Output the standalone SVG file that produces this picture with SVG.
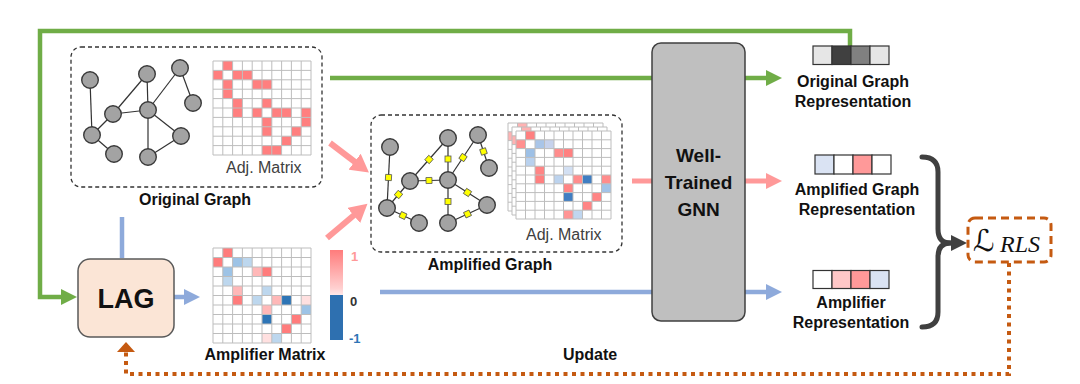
<svg xmlns="http://www.w3.org/2000/svg" xmlns:xlink="http://www.w3.org/1999/xlink" width="1080" height="384" viewBox="0 0 1080 384">
<style>
.lbl{font-family:"Liberation Sans",Arial,sans-serif;font-weight:bold;fill:#111;}
.adj{font-family:"Liberation Sans",Arial,sans-serif;font-size:16px;fill:#404040;}
.dash{fill:none;stroke:#333;stroke-width:1.3;stroke-dasharray:4 3;}
.edge{stroke:#333;stroke-width:1.2;}
.nd{fill:#a3a3a3;stroke:#3a3a3a;stroke-width:1.4;}
.ys{fill:#ffff00;stroke:#555;stroke-width:0.8;}
.red{fill:#ff7f7f;}
.grid{fill:none;stroke:#bdbdbd;stroke-width:1;}
.vec{stroke:#333;stroke-width:1.2;}
.g{fill:none;stroke:#70ad47;stroke-width:4.5;}
.p{fill:none;stroke:#ff9999;stroke-width:5;}
.b{fill:none;stroke:#8eaadb;stroke-width:4.5;}
.o{fill:none;stroke:#c55a11;stroke-width:4;stroke-dasharray:4 4.5;}
</style>
<defs>
<path id="grid10" class="grid" vector-effect="non-scaling-stroke" d="M0 0H10M0 1H10M0 2H10M0 3H10M0 4H10M0 5H10M0 6H10M0 7H10M0 8H10M0 9H10M0 10H10M0 0V10M1 0V10M2 0V10M3 0V10M4 0V10M5 0V10M6 0V10M7 0V10M8 0V10M9 0V10M10 0V10"/>
<g id="origCells" class="red">
<rect x="1" y="0" width="1" height="1"/>
<rect x="0" y="1" width="1" height="1"/><rect x="2" y="1" width="1" height="1"/><rect x="3" y="1" width="1" height="1"/>
<rect x="1" y="2" width="1" height="1"/><rect x="4" y="2" width="1" height="1"/><rect x="5" y="2" width="1" height="1"/>
<rect x="1" y="3" width="1" height="1"/>
<rect x="2" y="4" width="1" height="1"/><rect x="5" y="4" width="1" height="1"/>
<rect x="2" y="5" width="1" height="1"/><rect x="4" y="5" width="1" height="1"/><rect x="6" y="5" width="1" height="1"/><rect x="7" y="5" width="1" height="1"/><rect x="9" y="5" width="1" height="1"/>
<rect x="5" y="6" width="1" height="1"/><rect x="9" y="6" width="1" height="1"/>
<rect x="5" y="7" width="1" height="1"/><rect x="8" y="7" width="1" height="1"/>
<rect x="7" y="8" width="1" height="1"/>
<rect x="5" y="9" width="1" height="1"/><rect x="6" y="9" width="1" height="1"/>
</g>
<filter id="soft" x="-10%" y="-10%" width="120%" height="120%"><feGaussianBlur stdDeviation="0.08"/></filter>
<linearGradient id="cbar" x1="0" y1="0" x2="0" y2="1"><stop offset="0" stop-color="#ff7c7c"/><stop offset="0.85" stop-color="#ffd0d0"/><stop offset="1" stop-color="#ffe8e8"/></linearGradient>
<marker id="mG" viewBox="0 0 16 16" refX="3" refY="8" markerWidth="16" markerHeight="16" markerUnits="userSpaceOnUse" orient="auto"><path d="M0,0 L16,8 L0,16 z" fill="#70ad47"/></marker>
<marker id="mP" viewBox="0 0 16 16" refX="3" refY="8" markerWidth="16" markerHeight="16" markerUnits="userSpaceOnUse" orient="auto"><path d="M0,0 L16,8 L0,16 z" fill="#ff9999"/></marker>
<marker id="mP2" viewBox="0 0 20 20" refX="3" refY="10" markerWidth="20" markerHeight="20" markerUnits="userSpaceOnUse" orient="auto"><path d="M0,0 L18,10 L0,20 z" fill="#ff9999"/></marker>
<marker id="mB" viewBox="0 0 16 16" refX="3" refY="8" markerWidth="16" markerHeight="16" markerUnits="userSpaceOnUse" orient="auto"><path d="M0,0 L16,8 L0,16 z" fill="#8eaadb"/></marker>
<marker id="mK" viewBox="0 0 16 16" refX="3" refY="8" markerWidth="16" markerHeight="16" markerUnits="userSpaceOnUse" orient="auto"><path d="M0,0 L16,8 L0,16 z" fill="#404040"/></marker>
<marker id="mO" viewBox="0 0 10 18" refX="0" refY="9" markerWidth="10" markerHeight="18" markerUnits="userSpaceOnUse" orient="auto"><path d="M0,0 L10,9 L0,18 z" fill="#c55a11"/></marker>
</defs>
<rect width="1080" height="384" fill="#ffffff"/>

<g id="connectors">
<path class="g" d="M850,46 V31 H40 V297 H64" marker-end="url(#mG)"/>
<path class="g" d="M330,78 H652"/>
<path class="g" d="M745,78 H769" marker-end="url(#mG)"/>
<path class="p" d="M632,181 H652"/>
<path class="p" d="M745,181 H769" marker-end="url(#mP)"/>
<path class="b" d="M380,292 H652"/>
<path class="b" d="M745,292 H769" marker-end="url(#mB)"/>
<path class="b" d="M122,217 V258"/>
<path class="b" d="M174,297 H187" marker-end="url(#mB)"/>
<path fill="none" stroke="#ff9999" stroke-width="6" d="M330,143 L357,163.5" marker-end="url(#mP2)"/>
<path fill="none" stroke="#ff9999" stroke-width="6" d="M327,238 L356,213.5" marker-end="url(#mP2)"/>
<path fill="none" stroke="#404040" stroke-width="5" stroke-linejoin="round" stroke-linecap="round" d="M922,157 Q938,157 938,172 L938,229 Q938,243 950,243 Q938,243 938,257 L938,312 Q938,327 922,327"/>
<path fill="none" stroke="#404040" stroke-width="5" d="M942,243 H954" marker-end="url(#mK)"/>
<path class="o" d="M1009,263 V374 H126 V352" marker-end="url(#mO)"/>
</g>

<g id="original-graph">
<rect class="dash" x="71" y="47" width="251" height="140" rx="10"/>
<g>
<line class="edge" x1="90" y1="80" x2="92" y2="135"/>
<line class="edge" x1="92" y1="135" x2="113" y2="114"/>
<line class="edge" x1="92" y1="135" x2="114" y2="154"/>
<line class="edge" x1="113" y1="114" x2="148" y2="110"/>
<line class="edge" x1="113" y1="114" x2="147" y2="74"/>
<line class="edge" x1="147" y1="74" x2="148" y2="110"/>
<line class="edge" x1="148" y1="110" x2="180" y2="68"/>
<line class="edge" x1="180" y1="68" x2="193" y2="103"/>
<line class="edge" x1="148" y1="110" x2="181" y2="136"/>
<line class="edge" x1="148" y1="110" x2="148" y2="157"/>
<line class="edge" x1="148" y1="157" x2="181" y2="136"/>
<circle class="nd" cx="90" cy="80" r="8.3"/>
<circle class="nd" cx="147" cy="74" r="8.3"/>
<circle class="nd" cx="180" cy="68" r="8.3"/>
<circle class="nd" cx="193" cy="103" r="8.3"/>
<circle class="nd" cx="113" cy="114" r="8.3"/>
<circle class="nd" cx="148" cy="110" r="8.3"/>
<circle class="nd" cx="92" cy="135" r="8.3"/>
<circle class="nd" cx="114" cy="154" r="8.3"/>
<circle class="nd" cx="181" cy="136" r="8.3"/>
<circle class="nd" cx="148" cy="157" r="8.3"/>
</g>
<g transform="translate(213,61) scale(9.8,9.4)">
<rect x="0" y="0" width="10" height="10" fill="#fff"/>
<use href="#origCells" xlink:href="#origCells"/>
<use href="#grid10" xlink:href="#grid10"/>
</g>
<text class="adj" x="226" y="173">Adj. Matrix</text>
<text class="lbl" x="195" y="205" font-size="16" text-anchor="middle">Original Graph</text>
</g>

<g id="amplified-graph">
<rect class="dash" x="371" y="115" width="251" height="137" rx="10"/>
<g>
<line class="edge" x1="390" y1="147" x2="387" y2="208"/>
<line class="edge" x1="387" y1="208" x2="410" y2="181"/>
<line class="edge" x1="387" y1="208" x2="419" y2="223"/>
<line class="edge" x1="410" y1="181" x2="448" y2="180"/>
<line class="edge" x1="410" y1="181" x2="448" y2="138"/>
<line class="edge" x1="448" y1="138" x2="448" y2="180"/>
<line class="edge" x1="448" y1="180" x2="478" y2="135"/>
<line class="edge" x1="478" y1="135" x2="489" y2="168"/>
<line class="edge" x1="448" y1="180" x2="487" y2="205"/>
<line class="edge" x1="448" y1="180" x2="448" y2="223"/>
<line class="edge" x1="448" y1="223" x2="487" y2="205"/>
<rect class="ys" x="-3" y="-3" width="6" height="6" transform="translate(388.5,177.5) rotate(92.8)"/>
<rect class="ys" x="-3" y="-3" width="6" height="6" transform="translate(398.5,194.5) rotate(-49.6)"/>
<rect class="ys" x="-3" y="-3" width="6" height="6" transform="translate(403,215.5) rotate(25.1)"/>
<rect class="ys" x="-3" y="-3" width="6" height="6" transform="translate(429,180.5) rotate(-1.5)"/>
<rect class="ys" x="-3" y="-3" width="6" height="6" transform="translate(429,159.5) rotate(-48.5)"/>
<rect class="ys" x="-3" y="-3" width="6" height="6" transform="translate(448,159) rotate(90)"/>
<rect class="ys" x="-3" y="-3" width="6" height="6" transform="translate(463,157.5) rotate(-56.3)"/>
<rect class="ys" x="-3" y="-3" width="6" height="6" transform="translate(483.5,151.5) rotate(71.6)"/>
<rect class="ys" x="-3" y="-3" width="6" height="6" transform="translate(467.5,192.5) rotate(32.7)"/>
<rect class="ys" x="-3" y="-3" width="6" height="6" transform="translate(448,201.5) rotate(90)"/>
<rect class="ys" x="-3" y="-3" width="6" height="6" transform="translate(467.5,214) rotate(-24.8)"/>
<circle class="nd" cx="390" cy="147" r="8.3"/>
<circle class="nd" cx="448" cy="138" r="8.3"/>
<circle class="nd" cx="478" cy="135" r="8.3"/>
<circle class="nd" cx="489" cy="168" r="8.3"/>
<circle class="nd" cx="410" cy="181" r="8.3"/>
<circle class="nd" cx="448" cy="180" r="8.3"/>
<circle class="nd" cx="387" cy="208" r="8.3"/>
<circle class="nd" cx="419" cy="223" r="8.3"/>
<circle class="nd" cx="487" cy="205" r="8.3"/>
<circle class="nd" cx="448" cy="223" r="8.3"/>
</g>
<g transform="translate(508,123) scale(9.5,8.8)">
<rect x="0" y="0" width="10" height="10" fill="#fff"/>
<use href="#origCells" xlink:href="#origCells" opacity="0.6" filter="url(#soft)"/>
<use href="#grid10" xlink:href="#grid10"/>
</g>
<g transform="translate(512,127) scale(9.5,8.8)">
<rect x="0" y="0" width="10" height="10" fill="#fff"/>
<use href="#origCells" xlink:href="#origCells" opacity="0.6" filter="url(#soft)"/>
<use href="#grid10" xlink:href="#grid10"/>
</g>
<g transform="translate(516,131) scale(9.5,8.8)">
<rect x="0" y="0" width="10" height="10" fill="#fff"/>
<g filter="url(#soft)">
<rect x="1" y="0" width="1" height="1" fill="#ff8080"/>
<rect x="0" y="1" width="1" height="1" fill="#ff9090"/><rect x="2" y="1" width="1" height="1" fill="#a9c5e8"/><rect x="3" y="1" width="1" height="1" fill="#c6d2ec"/>
<rect x="1" y="2" width="1" height="1" fill="#9dc0e6"/><rect x="4" y="2" width="1" height="1" fill="#ff8c8c"/><rect x="5" y="2" width="1" height="1" fill="#ff8080"/>
<rect x="1" y="3" width="1" height="1" fill="#b9d1ee"/>
<rect x="2" y="4" width="1" height="1" fill="#ff8585"/><rect x="5" y="4" width="1" height="1" fill="#d3e0f3"/>
<rect x="2" y="5" width="1" height="1" fill="#ff8080"/><rect x="4" y="5" width="1" height="1" fill="#bcd3ee"/><rect x="6" y="5" width="1" height="1" fill="#ff8c8c"/><rect x="7" y="5" width="1" height="1" fill="#3f7ec2"/><rect x="9" y="5" width="1" height="1" fill="#ff8c8c"/>
<rect x="5" y="6" width="1" height="1" fill="#ff8585"/><rect x="9" y="6" width="1" height="1" fill="#a2c3e8"/>
<rect x="5" y="7" width="1" height="1" fill="#3f7ec2"/><rect x="8" y="7" width="1" height="1" fill="#ff8585"/>
<rect x="7" y="8" width="1" height="1" fill="#ff8585"/>
<rect x="5" y="9" width="1" height="1" fill="#ff9494"/><rect x="6" y="9" width="1" height="1" fill="#c0d6ef"/>
</g>
<use href="#grid10" xlink:href="#grid10"/>
</g>
<text class="adj" x="526" y="240">Adj. Matrix</text>
<text class="lbl" x="490" y="270" font-size="16" text-anchor="middle">Amplified Graph</text>
</g>

<g id="lag">
<rect x="78" y="259" width="96" height="78" rx="12" fill="#fbe5d6" stroke="#595959" stroke-width="1.5"/>
<text class="lbl" x="126" y="308" font-size="27" text-anchor="middle">LAG</text>
</g>

<g id="amplifier-matrix">
<g transform="translate(213,248) scale(9.8,9.5)">
<rect x="0" y="0" width="10" height="10" fill="#fff"/>
<rect x="1" y="0" width="1" height="1" fill="#ff7c7c"/>
<rect x="0" y="1" width="1" height="1" fill="#ff7c7c"/><rect x="2" y="1" width="1" height="1" fill="#9dc3e6"/><rect x="3" y="1" width="1" height="1" fill="#bdd7ee"/>
<rect x="1" y="2" width="1" height="1" fill="#9dc3e6"/><rect x="4" y="2" width="1" height="1" fill="#ffb8b8"/><rect x="5" y="2" width="1" height="1" fill="#ff7c7c"/>
<rect x="1" y="3" width="1" height="1" fill="#bdd7ee"/>
<rect x="2" y="4" width="1" height="1" fill="#ffb8b8"/><rect x="5" y="4" width="1" height="1" fill="#bdd7ee"/>
<rect x="2" y="5" width="1" height="1" fill="#ff7c7c"/><rect x="4" y="5" width="1" height="1" fill="#bdd7ee"/><rect x="6" y="5" width="1" height="1" fill="#ffb8b8"/><rect x="7" y="5" width="1" height="1" fill="#2e75b6"/><rect x="9" y="5" width="1" height="1" fill="#ffe0e0"/>
<rect x="5" y="6" width="1" height="1" fill="#ffb8b8"/><rect x="9" y="6" width="1" height="1" fill="#9dc3e6"/>
<rect x="5" y="7" width="1" height="1" fill="#2e75b6"/><rect x="8" y="7" width="1" height="1" fill="#ff7c7c"/>
<rect x="7" y="8" width="1" height="1" fill="#ff7c7c"/>
<rect x="5" y="9" width="1" height="1" fill="#ffe0e0"/><rect x="6" y="9" width="1" height="1" fill="#bdd7ee"/>
<use href="#grid10" xlink:href="#grid10"/>
</g>
<text class="lbl" x="265" y="360" font-size="16" text-anchor="middle">Amplifier Matrix</text>
</g>

<g id="colorbar">
<rect x="330" y="250" width="13" height="45" fill="url(#cbar)"/>
<rect x="330" y="295" width="13" height="45" fill="#2e70b0"/>
<text class="lbl" x="351" y="261" font-size="13" style="fill:#ff9999">1</text>
<text class="lbl" x="350" y="306" font-size="13" style="fill:#333">0</text>
<text class="lbl" x="349" y="343" font-size="13" style="fill:#2e75b6">-1</text>
</g>

<g id="gnn">
<rect x="652" y="43" width="93" height="278" rx="9" fill="#bfbfbf" stroke="#404040" stroke-width="1.5"/>
<text class="lbl" x="698.5" y="162" font-size="19" text-anchor="middle">Well-</text>
<text class="lbl" x="698.5" y="189" font-size="19" text-anchor="middle">Trained</text>
<text class="lbl" x="698.5" y="216" font-size="19" text-anchor="middle">GNN</text>
</g>

<g id="original-representation">
<rect class="vec" x="813" y="46" width="19" height="18.5" fill="#e6e6e6"/>
<rect class="vec" x="832" y="46" width="19" height="18.5" fill="#404040"/>
<rect class="vec" x="851" y="46" width="19" height="18.5" fill="#808080"/>
<rect class="vec" x="870" y="46" width="19" height="18.5" fill="#e6e6e6"/>
<text class="lbl" x="853" y="87" font-size="16" text-anchor="middle">Original Graph</text>
<text class="lbl" x="853" y="107" font-size="16" text-anchor="middle">Representation</text>
</g>

<g id="amplified-representation">
<rect class="vec" x="815" y="155" width="19" height="19" fill="#dae3f3"/>
<rect class="vec" x="834" y="155" width="19" height="19" fill="#ffffff"/>
<rect class="vec" x="853" y="155" width="19" height="19" fill="#ff9999"/>
<rect class="vec" x="872" y="155" width="19" height="19" fill="#ffffff"/>
<text class="lbl" x="857" y="195" font-size="16" text-anchor="middle">Amplified Graph</text>
<text class="lbl" x="857" y="215" font-size="16" text-anchor="middle">Representation</text>
</g>

<g id="amplifier-representation">
<rect class="vec" x="813" y="270.5" width="19" height="18" fill="#ffffff"/>
<rect class="vec" x="832" y="270.5" width="19" height="18" fill="#ffc7c7"/>
<rect class="vec" x="851" y="270.5" width="19" height="18" fill="#ff9999"/>
<rect class="vec" x="870" y="270.5" width="19" height="18" fill="#dae3f3"/>
<text class="lbl" x="851" y="308" font-size="16" text-anchor="middle">Amplifier</text>
<text class="lbl" x="851" y="328" font-size="16" text-anchor="middle">Representation</text>
</g>

<g id="loss">
<rect x="968" y="218" width="83" height="44" rx="7" fill="#fff" stroke="#c55a11" stroke-width="3" stroke-dasharray="8 5"/>
<text x="973" y="251" font-family="'DejaVu Serif','DejaVu Sans',serif" font-size="30" fill="#111">ℒ</text>
<text x="1000" y="252" font-family="'Liberation Serif','Times New Roman',serif" font-style="italic" font-size="24" fill="#111">RLS</text>
</g>

<g id="update-label">
<text class="lbl" x="590" y="360" font-size="16" text-anchor="middle">Update</text>
</g>
</svg>
